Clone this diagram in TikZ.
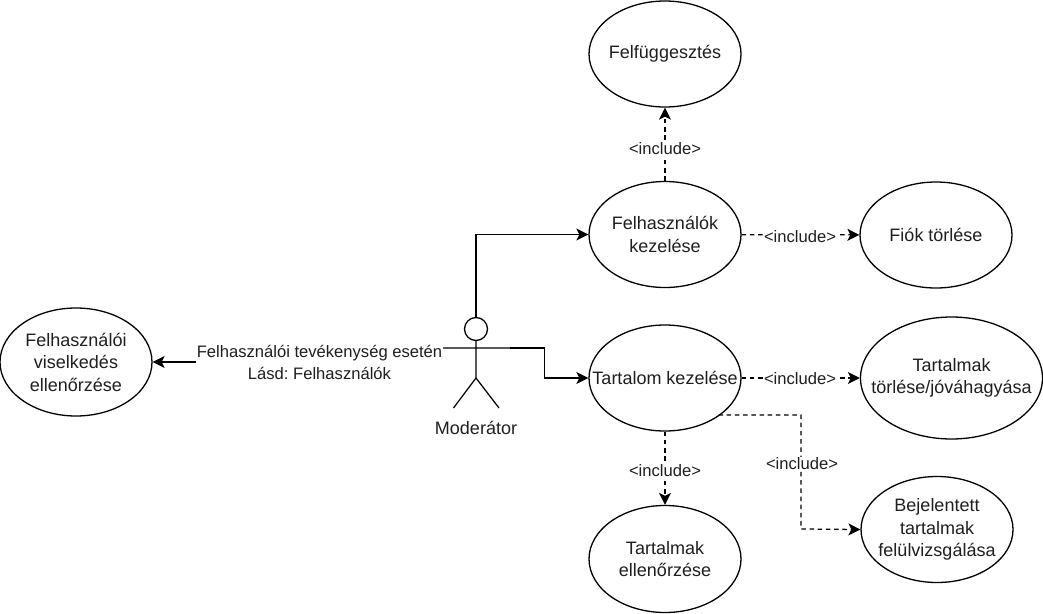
\documentclass[tikz,border=0pt]{standalone}
\usepackage{fontspec}
\setmainfont{Liberation Sans}
\frenchspacing
\usetikzlibrary{arrows.meta,calc,shapes.geometric}
\newcommand{\zw}[1]{\makebox[0pt]{#1}}
\tikzset{
  uc/.style={draw=black,line width=1.3pt,ellipse,minimum width=152pt,minimum height=106pt,align=center,inner sep=0pt,text=black!88,font=\fontsize{18pt}{22.5pt}\selectfont},
  conn/.style={line width=1.25pt,-{Stealth[length=12pt,width=12pt,inset=3pt]}},
  dconn/.style={conn,dash pattern=on 4.5pt off 3.7pt},
  lbl/.style={fill=white,inner sep=0.5pt,align=center,text=black!88,font=\fontsize{16.6pt}{22pt}\selectfont}
}
\begin{document}
\begin{tikzpicture}[x=1pt,y=-1pt]
\useasboundingbox (0,0) rectangle (1043,613);
\fill[white] (0,0) rectangle (1043,613);
\node[uc] (felf) at (665,54) {\zw{Felfüggesztés}};
\node[uc] (felh) at (665,234.5) {\zw{Felhasználók}\\\zw{kezelése}};
\node[uc] (fiok) at (936,235) {\zw{Fiók törlése}};
\node[uc] (tart) at (665,378) {\zw{Tartalom kezelése}};
\node[uc,minimum width=182pt,minimum height=122pt] (torl) at (951.5,378) {\zw{Tartalmak}\\\zw{törlése/jóváhagyása}};
\node[uc,minimum height=107pt] (ell) at (665,559) {\zw{Tartalmak}\\\zw{ellenőrzése}};
\node[uc] (bej) at (937,529.5) {\zw{Bejelentett}\\\zw{tartalmak}\\\zw{felülvizsgálása}};
\node[uc,minimum height=108pt] (visel) at (76,362) {\zw{Felhasználói}\\\zw{viselkedés}\\\zw{ellenőrzése}};
% actor
\node[draw,circle,line width=1.3pt,minimum size=23pt,inner sep=0pt] (head) at (476,329) {};
\coordinate (hip) at (476,378);
\coordinate (armL) at (442,348);
\coordinate (armR) at (510,348);
\coordinate (legL) at (453.5,408);
\coordinate (legR) at (499,408);
\draw[line width=1.25pt] (head.south) -- (hip) (armL) -- (armR) (legL) -- (hip) -- (legR);
\node[font=\fontsize{18pt}{20pt}\selectfont,text=black!88] (mod) at (476,428) {Moderátor};
% connectors
\draw[conn] (head.north) |- (felh.west);
\coordinate (bend) at (544.5,348);
\draw[conn] (armR) -- (bend) |- (tart.west);
\draw[conn] (armL) -- (442,362) -- (visel.east);
\node[lbl] (l0) at (319.5,362.5) {Felhasználói tevékenység esetén\\Lásd: Felhasználók};
\draw[dconn] (felh) -- (felf);
\draw[dconn] (felh) -- (fiok);
\draw[dconn] (tart) -- (torl);
\draw[dconn] (tart) -- (ell);
\coordinate (b0) at (718.5,415);
\coordinate (b1) at (801,415);
\coordinate (b2) at (801,529);
\draw[dconn] (b0) -- (b1) -- (b2) -- (bej.west);
\node[lbl] (l1) at (665,149) {<include>};
\node[lbl] (l2) at (800,237) {<include>};
\node[lbl] (l3) at (800,379) {<include>};
\node[lbl] (l4) at (665,471) {<include>};
\node[lbl] (l5) at (802,463.5) {<include>};
\end{tikzpicture}
\end{document}
